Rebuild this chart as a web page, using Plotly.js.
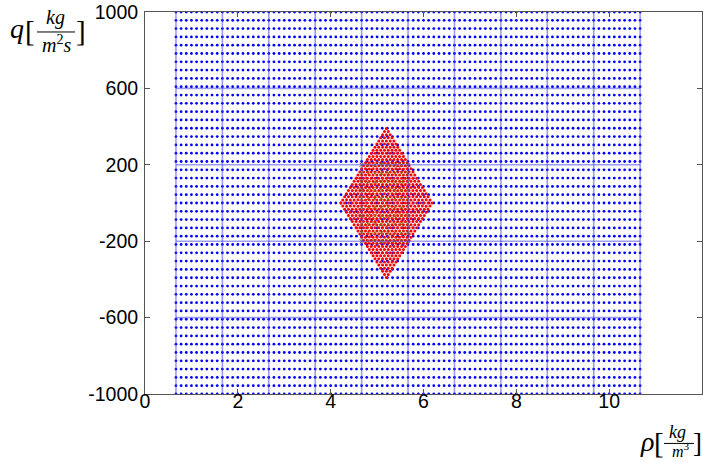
<!DOCTYPE html>
<html>
<head>
<meta charset="utf-8">
<script src="https://cdn.plot.ly/plotly-3.0.1.min.js"></script>
<style>html,body{margin:0;padding:0;background:#fff;}#chart{width:703px;height:462px;}</style>
</head>
<body>
<div id="chart"></div>
<script>
// ---- data ----
// blue mesh: density (rho) columns and flux (q) rows
const meshRho = [
 0.667,0.778,0.889,1,1.111,1.222,1.333,1.444,1.556,
 1.667,1.778,1.889,2,2.111,2.222,2.333,2.444,2.556,
 2.667,2.778,2.889,3,3.111,3.222,3.333,3.444,3.556,
 3.667,3.778,3.889,4,4.111,4.222,4.333,4.444,4.556,
 4.667,4.778,4.889,5,5.111,5.222,5.333,5.444,5.556,
 5.667,5.778,5.889,6,6.111,6.222,6.333,6.444,6.556,
 6.667,6.778,6.889,7,7.111,7.222,7.333,7.444,7.556,
 7.667,7.778,7.889,8,8.111,8.222,8.333,8.444,8.556,
 8.667,8.778,8.889,9,9.111,9.222,9.333,9.444,9.556,
 9.667,9.778,9.889,10,10.111,10.222,10.333,10.444,10.556,
 10.667];
const meshQ = [-1000,-956.5,-913,-869.6,-826.1,-782.6,-739.1,-695.7,-652.2,-608.7,-565.2,-521.7,
 -478.3,-434.8,-391.3,-347.8,-304.3,-260.9,-217.4,-173.9,-130.4,-87,-43.5,0,
 43.5,87,130.4,173.9,217.4,260.9,304.3,347.8,391.3,434.8,478.3,521.7,565.2,608.7,
 652.2,695.7,739.1,782.6,826.1,869.6,913,956.5,1000];
// mesh lines
const lineRho = [0.667,1.667,2.667,3.667,4.667,5.667,6.667,7.667,8.667,9.667,10.667];
const lineQ = [-600,-200,200,600];
// red diamond (reachable set): centre, half sizes, lattice parameters
const diamondCenter = [5.2, 0];
const diamondHalf = [0.98, 390];
const diamondS = [-1,-0.917,-0.833,-0.75,-0.667,-0.583,-0.5,-0.417,-0.333,-0.25,-0.167,-0.083,0,
 0.083,0.167,0.25,0.333,0.417,0.5,0.583,0.667,0.75,0.833,0.917,1];
// olive cell points
const cellRho = [4.667,4.81,4.952,5.095,5.238,5.381,5.524,5.667];
const cellQ = [-200,-155.6,-111.1,-66.7,-22.2,22.2,66.7,111.1,155.6,200];
// ticks
const xTicks = [0,2,4,6,8,10];
const yTicks = [-1000,-600,-200,200,600,1000];

// ---- build traces ----
function grid(xs, ys){const X=[],Y=[];for(const x of xs)for(const y of ys){X.push(x);Y.push(y);}return [X,Y];}
const [bx,by] = grid(meshRho, meshQ);
const rx=[],ry=[];
for(const s of diamondS)for(const t of diamondS){
  rx.push(diamondCenter[0]+diamondHalf[0]*(s+t)/2);
  ry.push(diamondCenter[1]+diamondHalf[1]*(s-t)/2);
}
const [cx,cy] = grid(cellRho, cellQ);
const lx=[],ly=[];
for(const r of lineRho){lx.push(r,r,null);ly.push(-1000,1000,null);}
for(const q of lineQ){lx.push(0.667,10.667,null);ly.push(q,q,null);}

const traces = [
 {type:'scatter',mode:'markers',x:bx,y:by,marker:{color:'#0000ff',size:2.8},hoverinfo:'skip'},
 {type:'scatter',mode:'markers',x:rx,y:ry,marker:{color:'#ff0000',size:3},hoverinfo:'skip'},
 {type:'scatter',mode:'markers',x:cx,y:cy,marker:{color:'#8a6a08',size:4,symbol:'x-thin',line:{color:'#8a6a08',width:1}},hoverinfo:'skip'},
 {type:'scatter',mode:'lines',x:lx,y:ly,line:{color:'rgba(60,60,235,0.5)',width:1.6},hoverinfo:'skip'}
];

// pixel helpers for labels outside the plot
const L=145,R=702,T=12,B=394.5;
const px=v=>(v-L)/(R-L), py=v=>(B-v)/(B-T);
const serif='Liberation Serif, DejaVu Serif, serif';
function ann(text,x,y,size){return {text:text,x:px(x),y:py(y),xref:'paper',yref:'paper',showarrow:false,xanchor:'center',yanchor:'middle',font:{family:serif,size:size,color:'#000'}};}
const annotations=[
 ann('<i>q</i>',17,29,28), ann('[',30,31,29), ann('<i>kg</i>',55,18,20), ann('<i>m</i><sup>2</sup><i>s</i>',56,44,20), ann(']',81,31,29),
 ann('<i>ρ</i>',647,442,28), ann('[',659,444,29), ann('<i>kg</i>',677,433,18), ann('<i>m</i><sup>3</sup>',681,451,16), ann(']',697,444,27)
];
const shapes=[
 {type:'line',xref:'paper',yref:'paper',x0:px(37),x1:px(75),y0:py(32),y1:py(32),line:{color:'#000',width:1}},
 {type:'line',xref:'paper',yref:'paper',x0:px(664),x1:px(694),y0:py(444),y1:py(444),line:{color:'#000',width:1}}
];

const axisCommon={showgrid:false,zeroline:false,showline:true,linecolor:'#555',linewidth:1,mirror:'ticks',ticks:'inside',ticklen:5,tickcolor:'#555',tickfont:{family:'Liberation Sans, Arial, sans-serif',size:19.5,color:'#000'}};
const layout={
 width:703,height:462,margin:{l:145,r:1,t:12,b:67.5},
 paper_bgcolor:'#fff',plot_bgcolor:'#fff',showlegend:false,
 xaxis:Object.assign({},axisCommon,{range:[0,12],tickvals:xTicks,ticktext:xTicks.map(String),ticklabelstandoff:-10}),
 yaxis:Object.assign({},axisCommon,{range:[-1000,1000],tickvals:yTicks,ticktext:yTicks.map(String),ticklabelstandoff:2}),
 annotations:annotations,shapes:shapes
};
Plotly.newPlot('chart',traces,layout,{staticPlot:true,displayModeBar:false});
</script>
</body>
</html>
